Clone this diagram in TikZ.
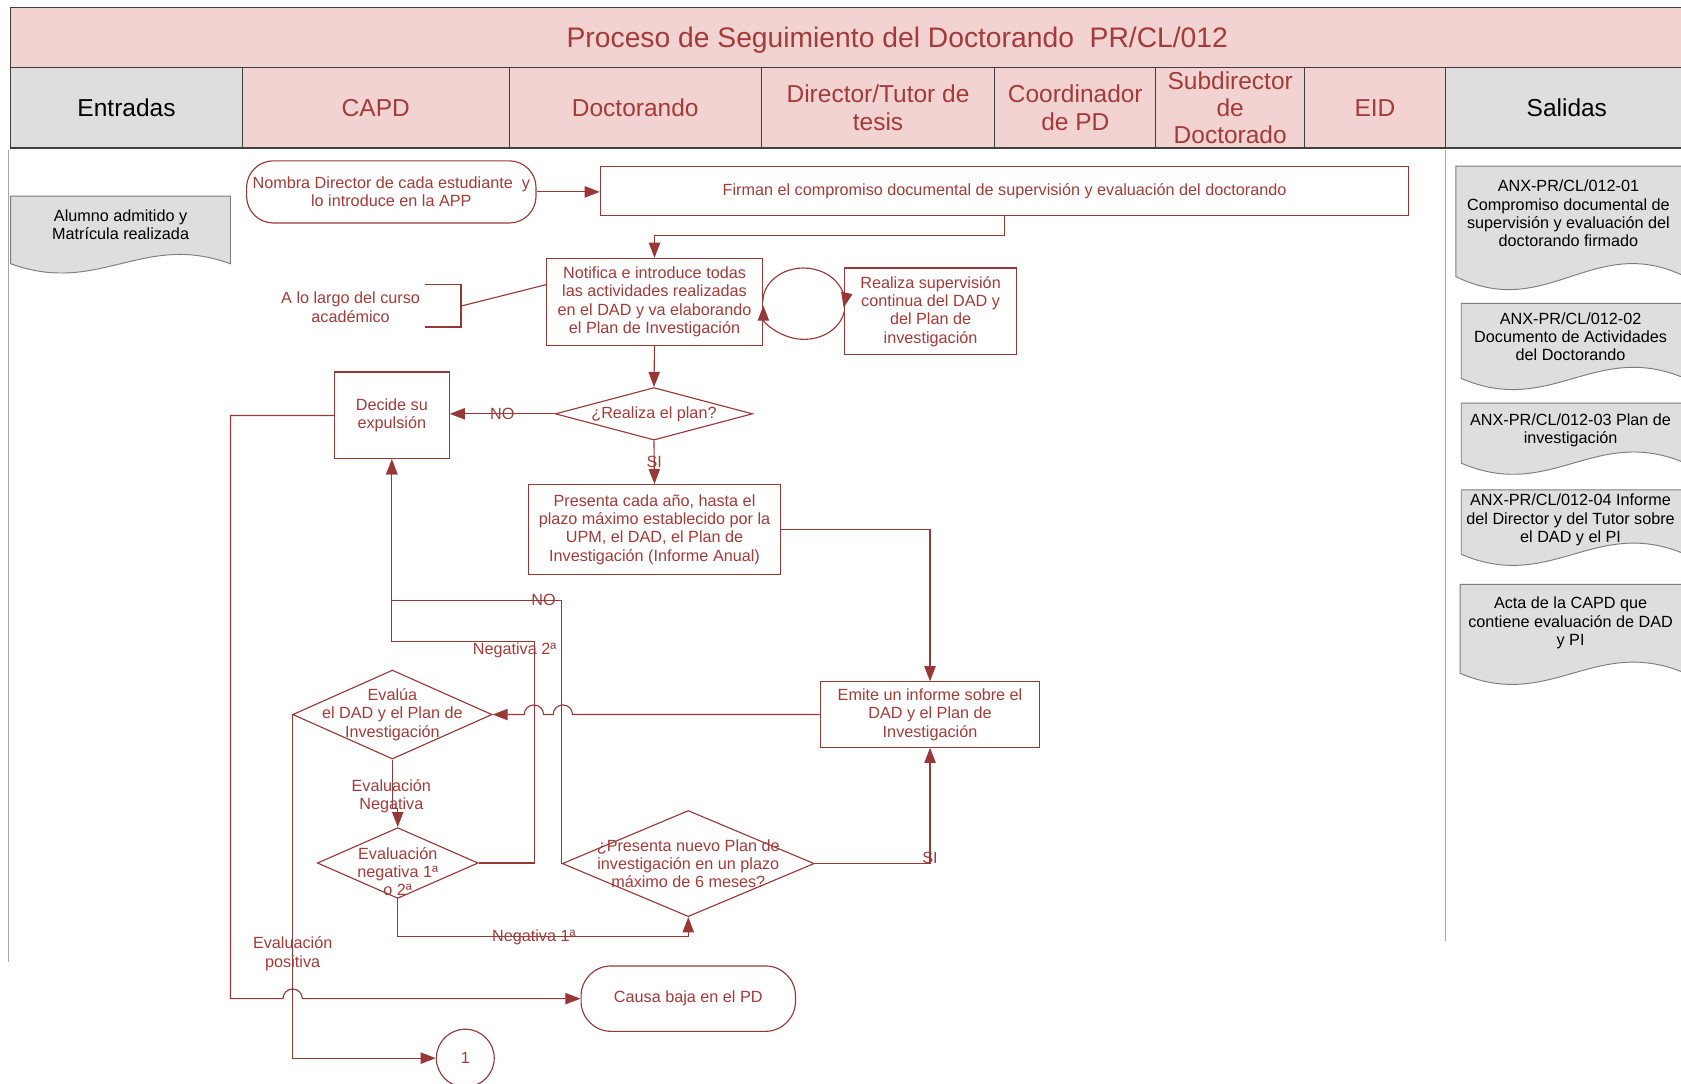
\documentclass[tikz,border=0pt]{standalone}
\usepackage{fontspec}
\setmainfont{Liberation Sans}
\usetikzlibrary{shapes,arrows.meta,positioning}

\definecolor{rojo}{RGB}{152,56,54}
\definecolor{rojotxt}{RGB}{163,59,57}
\definecolor{rosa}{RGB}{243,210,210}
\definecolor{gris}{RGB}{222,222,222}
\definecolor{borde}{RGB}{64,64,64}
\definecolor{docborde}{RGB}{125,125,125}

\newcommand{\flowfont}{\fontsize{8.6}{9.7}\selectfont}
\newcommand{\lanefont}{\fontsize{13}{14.4}\selectfont}
\newcommand{\titlefont}{\fontsize{15}{18}\selectfont}

% document shape: x1, x2, top, wave start, wave height
\newcommand{\docshape}[5]{%
  \filldraw[draw=docborde, fill=gris, line width=0.5pt]
    (#1,#3) -- (#2,#3) -- (#2,#4)
    .. controls ({#1+0.6*(#2-#1)},{#4-#5}) and ({#1+0.4*(#2-#1)},{#4+#5}) .. (#1,#4) -- cycle;}

\begin{document}
\begin{tikzpicture}[x=0.2mm, y=-0.2mm]
% Define node styles
\tikzstyle{lane} = [rectangle, draw=borde, line width=0.6pt, fill=rosa, text=rojotxt, font=\lanefont, align=center, minimum height=15mm, inner sep=0pt]
\tikzstyle{io} = [lane, fill=gris, text=black]
\tikzstyle{proc} = [rectangle, draw=rojo, line width=0.6pt, fill=white, text=rojotxt, font=\flowfont, align=center, inner sep=0pt]
\tikzstyle{term} = [proc, rounded corners=5mm]
\tikzstyle{decision} = [diamond, draw=rojo, line width=0.6pt, inner sep=0pt]
\tikzstyle{dtext} = [text=rojotxt, font=\flowfont, align=center, inner sep=0pt]
\tikzstyle{lbl} = [text=rojotxt, font=\flowfont, align=center, inner sep=0pt]
\tikzstyle{doc} = [font=\flowfont, align=center, inner sep=0pt]
\tikzstyle{flow} = [draw=rojo, line width=0.6pt, -{Triangle[length=8pt,width=6pt]}]
\tikzstyle{wire} = [draw=rojo, line width=0.6pt]
\tikzstyle{divider} = [draw=gris!75!black, line width=0.5pt]

\useasboundingbox (0,0) rectangle (1568,1011);
\clip (0,0) rectangle (1568,1011);

% Header
\node[lane, minimum width=330.8mm, minimum height=11.2mm, font=\titlefont, text depth=0pt] (titulo) at (837,35) {Proceso de Seguimiento del Doctorando\ \ PR/CL/012};
\node[io, minimum width=43.2mm] (entradas) at (118,100.5) {Entradas};
\node[lane, minimum width=49.8mm] (capd) at (350.5,100.5) {CAPD};
\node[lane, minimum width=47mm] (doctorando) at (592.5,100.5) {Doctorando};
\node[lane, minimum width=43.6mm] (director) at (819,100.5) {Director/Tutor de\\tesis};
\node[lane, minimum width=30mm] (coordinador) at (1003,100.5) {Coordinador\\de PD};
\node[lane, minimum width=27.8mm] (subdirector) at (1147.5,100.5) {Subdirector\\de\\Doctorado};
\node[lane, minimum width=26.2mm] (eid) at (1282.5,100.5) {EID};
\node[io, minimum width=45.4mm] (salidas) at (1461.5,100.5) {Salidas};

\draw[divider] (8,140) -- (8,897);
\draw[divider] (1348,140) -- (1348,878);

% Inputs and outputs
\docshape{10}{215}{183}{246}{30}
\node[doc] (alumno) at (112.5,209.5) {Alumno admitido y\\Matrícula realizada};
\docshape{1358}{1572}{155}{258}{42}
\node[doc] (anx01) at (1463,199) {ANX-PR/CL/012-01\\Compromiso documental de\\supervisión y evaluación del\\doctorando firmado};
\docshape{1363}{1572}{283}{353}{36}
\node[doc] (anx02) at (1465,314) {ANX-PR/CL/012-02\\Documento de Actividades\\del Doctorando};
\docshape{1363}{1572}{376}{432}{36}
\node[doc] (anx03) at (1465,401.5) {ANX-PR/CL/012-03 Plan de\\investigación};
\docshape{1363}{1572}{457}{517}{36}
\node[doc] (anx04) at (1465,485) {ANX-PR/CL/012-04 Informe\\del Director y del Tutor sobre\\el DAD y el PI};
\docshape{1362}{1572}{545}{628}{36}
\node[doc] (acta) at (1465,581) {Acta de la CAPD que\\contiene evaluación de DAD\\y PI};

% Draw nodes
\node[term, minimum width=54mm, minimum height=11.6mm] (nombra) at (365,179) {Nombra Director de cada estudiante\ \ y\\lo introduce en la APP};
\node[proc, minimum width=150.8mm, minimum height=9.2mm] (firman) at (937,178) {Firman el compromiso documental de supervisión y evaluación del doctorando};
\node[proc, minimum width=40.2mm, minimum height=16.2mm] (notifica) at (610.5,281.5) {Notifica e introduce todas\\las actividades realizadas\\en el DAD y va elaborando\\el Plan de Investigación};
\node[proc, minimum width=32mm, minimum height=16.2mm] (supervision) at (868,290.5) {Realiza supervisión\\continua del DAD y\\del Plan de\\investigación};
\node[lbl] (curso) at (327,286.5) {A lo largo del curso\\académico};
\coordinate (brk) at (430,285.5);
\node[decision, minimum width=36.8mm, minimum height=9.8mm, label={[dtext]center:¿Realiza el plan?}] (plan) at (610,386) {};
\node[proc, minimum width=21.4mm, minimum height=16.2mm] (expulsion) at (365.5,387.5) {Decide su\\expulsión};
\node[proc, minimum width=47mm, minimum height=16.8mm] (presenta) at (610.5,494) {Presenta cada año, hasta el\\plazo máximo establecido por la\\UPM, el DAD, el Plan de\\Investigación (Informe Anual)};
\node[proc, minimum width=41mm, minimum height=12.2mm] (emite) at (867.5,666.5) {Emite un informe sobre el\\DAD y el Plan de\\Investigación};
\node[decision, minimum width=37.2mm, minimum height=16.6mm, label={[dtext]center:Evalúa\\el DAD y el Plan de\\Investigación}] (evalua) at (366,666.5) {};
\node[decision, minimum width=30mm, minimum height=13.2mm, label={[dtext, yshift=-1.6mm]center:Evaluación\\negativa 1ª\\o 2ª}] (negativa) at (371,805) {};
\node[decision, minimum width=47mm, minimum height=19.8mm, label={[dtext]center:¿Presenta nuevo Plan de\\investigación en un plazo\\máximo de 6 meses?}] (nuevo) at (642,805.5) {};
\node[term, rounded corners=5.6mm, minimum width=40mm, minimum height=12.2mm] (baja) at (642,931.5) {Causa baja en el PD};
\node[proc, circle, minimum size=10.8mm] (uno) at (434,987) {1};

% Draw edges
\draw[flow] (nombra.east) -- (nombra.east -| firman.west);
\draw[flow] (firman.south) -- ++(0,18) -| (notifica.north);
\draw[wire] (396,265) -| (430,305) -- (396,305);
\draw[wire] (brk) -- (notifica.171);
\draw[flow] (notifica.east) arc[start angle=180, end angle=-10, x radius=7.6mm, y radius=6.3mm];
\draw[flow] (supervision.west) arc[start angle=-10, end angle=-180, x radius=7.6mm, y radius=6.3mm];
\draw[flow] (notifica.south) -- (plan.north);
\draw[flow] (plan.west) -- (plan.west -| expulsion.east) node[lbl, midway] (no1) {NO};
\draw[flow] (plan.south) -- (presenta.north) node[lbl, midway] (si1) {SI};
\draw[flow] (presenta.east) -| (emite.north);
\draw[flow] (emite.west) -- (534,666.5) arc[start angle=0, end angle=180, radius=1.8mm] -- (507,666.5) arc[start angle=0, end angle=180, radius=1.8mm] -- (evalua.east);
\draw[flow] (evalua.south) -- ++(0,46) -| (negativa.north);
\node[lbl] (evneg) at (365,743) {Evaluación\\Negativa};
\draw[flow] (negativa.east) -- ++(52,0) -- ++(0,-207) -| (expulsion.south);
\node[lbl] (neg2) at (480,607) {Negativa 2ª};
\draw[flow] (nuevo.west) -- ++(0,-245.5) -| (expulsion.south);
\node[lbl] (no2) at (507,560) {NO};
\draw[flow] (negativa.south) -- ++(0,35) -| (nuevo.south);
\node[lbl] (neg1) at (498,874) {Negativa 1ª};
\draw[flow] (nuevo.east) -| (emite.south) node[lbl, pos=0.5, yshift=1mm] (si2) {SI};
\draw[flow] (evalua.west) |- (uno.west);
\node[lbl] (evpos) at (273,889.5) {Evaluación\\positiva};
\draw[flow] (expulsion.west) -- ++(-96.5,0) -- ++(0,544) -- (264,931.5) arc[start angle=180, end angle=0, radius=1.8mm] -- (baja.west);
\end{tikzpicture}
\end{document}
